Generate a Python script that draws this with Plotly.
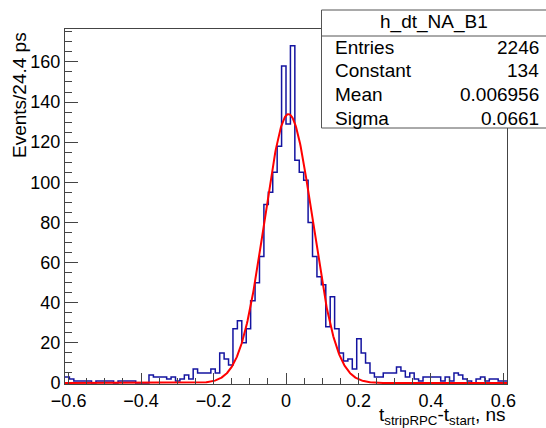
import numpy as np
import plotly.graph_objects as go

# ---- data ----
bin_low = -0.61          # ns, lower edge of first bin
bin_width = 0.0122       # ns
counts = [3, 2, 1, 1, 1, 1, 0, 1, 1, 1,
          1, 0, 1, 1, 1, 1, 0, 0, 0, 4,
          3, 3, 3, 2, 3, 1, 2, 4, 2, 7,
          5, 5, 5, 7, 5, 15, 12, 9, 27, 31,
          20, 27, 41, 50, 63, 89, 95, 105, 118, 158,
          129, 168, 111, 105, 101, 80, 63, 53, 49, 28,
          43, 27, 15, 11, 12, 7, 22, 15, 10, 5,
          3, 3, 5, 5, 5, 8, 6, 3, 5, 2,
          1, 3, 3, 3, 3, 1, 3, 1, 5, 4,
          2, 1, 0, 2, 3, 1, 2, 2, 1, 1]
fit_constant = 134.0
fit_mean = 0.006956
fit_sigma = 0.0661
stats_labels = ["Entries", "Constant", "Mean", "Sigma"]
stats_values = ["2246", "134", "0.006956", "0.0661"]
hist_name = "h_dt_NA_B1"

n = len(counts)
edges = bin_low + bin_width * np.arange(n + 1)
x_max = edges[-1]

W, H = 546, 428
ML, MR, MT, MB = 65, 39, 29, 44
pw, ph = W - ML - MR, H - MT - MB

def px(x):
    return (x - ML) / pw

def py(y):
    return (H - MB - y) / ph

FONT = "Liberation Sans, Arial, Helvetica, sans-serif"

fig = go.Figure()
fig.add_trace(go.Scatter(
    x=edges, y=list(counts) + [counts[-1]], mode="lines",
    line=dict(shape="hv", color="#1414a0", width=1.5),
    hoverinfo="skip", showlegend=False))

xs = np.linspace(bin_low, x_max, 800)
ys = fit_constant * np.exp(-0.5 * ((xs - fit_mean) / fit_sigma) ** 2)
fig.add_trace(go.Scatter(x=xs, y=ys, mode="lines",
                         line=dict(color="#ff0000", width=2),
                         hoverinfo="skip", showlegend=False))

ymax = 1.05 * max(counts)

fig.update_xaxes(range=[bin_low, x_max], tick0=0, dtick=0.2,
                 ticks="inside", ticklen=11, tickcolor="#444", tickwidth=1,
                 minor=dict(dtick=0.05, ticks="inside", ticklen=6, tickcolor="#444"),
                 showline=True, mirror=True, linecolor="#444", linewidth=1,
                 showgrid=False, zeroline=False,
                 tickfont=dict(family=FONT, size=18, color="black"))
fig.update_yaxes(range=[-0.5, ymax], tick0=0, dtick=20,
                 ticks="inside", ticklen=13, tickcolor="#444", tickwidth=1,
                 minor=dict(dtick=5, ticks="inside", ticklen=7, tickcolor="#444"),
                 showline=True, mirror=True, linecolor="#444", linewidth=1,
                 showgrid=False, zeroline=False,
                 tickfont=dict(family=FONT, size=18, color="black"))

shapes = []
# stats box
bx0, bx1, by0, by1, bsep = 321.5, 548, 10, 128, 36
shapes.append(dict(type="rect", xref="paper", yref="paper",
                   x0=px(bx0), x1=px(bx1), y0=py(by1), y1=py(by0),
                   line=dict(color="#555", width=1), fillcolor="white", layer="above"))
shapes.append(dict(type="line", xref="paper", yref="paper",
                   x0=px(bx0), x1=px(bx1), y0=py(bsep), y1=py(bsep),
                   line=dict(color="#555", width=1), layer="above"))

ann = []
ann.append(dict(text=hist_name, xref="paper", yref="paper",
                x=px((bx0 + 546) / 2), y=py(22), xanchor="center", yanchor="middle",
                showarrow=False, font=dict(family=FONT, size=19, color="black")))
row_y = [47, 71, 94.5, 118]
for lab, val, ry in zip(stats_labels, stats_values, row_y):
    ann.append(dict(text=lab, xref="paper", yref="paper", x=px(333), y=py(ry),
                    xanchor="left", yanchor="middle", showarrow=False,
                    font=dict(family=FONT, size=19, color="black")))
    ann.append(dict(text=val, xref="paper", yref="paper", x=px(541), y=py(ry),
                    xanchor="right", yanchor="middle", showarrow=False,
                    font=dict(family=FONT, size=19, color="black")))
# axis titles
ann.append(dict(text="Events/24.4 ps", xref="paper", yref="paper",
                x=px(19), y=py(30), xanchor="center", yanchor="top", textangle=-90,
                showarrow=False, font=dict(family=FONT, size=19, color="black")))
ann.append(dict(text="t<sub>stripRPC</sub>-t<sub>start</sub>, ns", xref="paper", yref="paper",
                x=px(508), y=py(416), xanchor="right", yanchor="middle",
                showarrow=False, font=dict(family=FONT, size=19, color="black")))

fig.update_layout(width=W, height=H, margin=dict(l=ML, r=MR, t=MT, b=MB),
                  paper_bgcolor="white", plot_bgcolor="white",
                  shapes=shapes, annotations=ann, showlegend=False)

fig.write_html("out.html")
